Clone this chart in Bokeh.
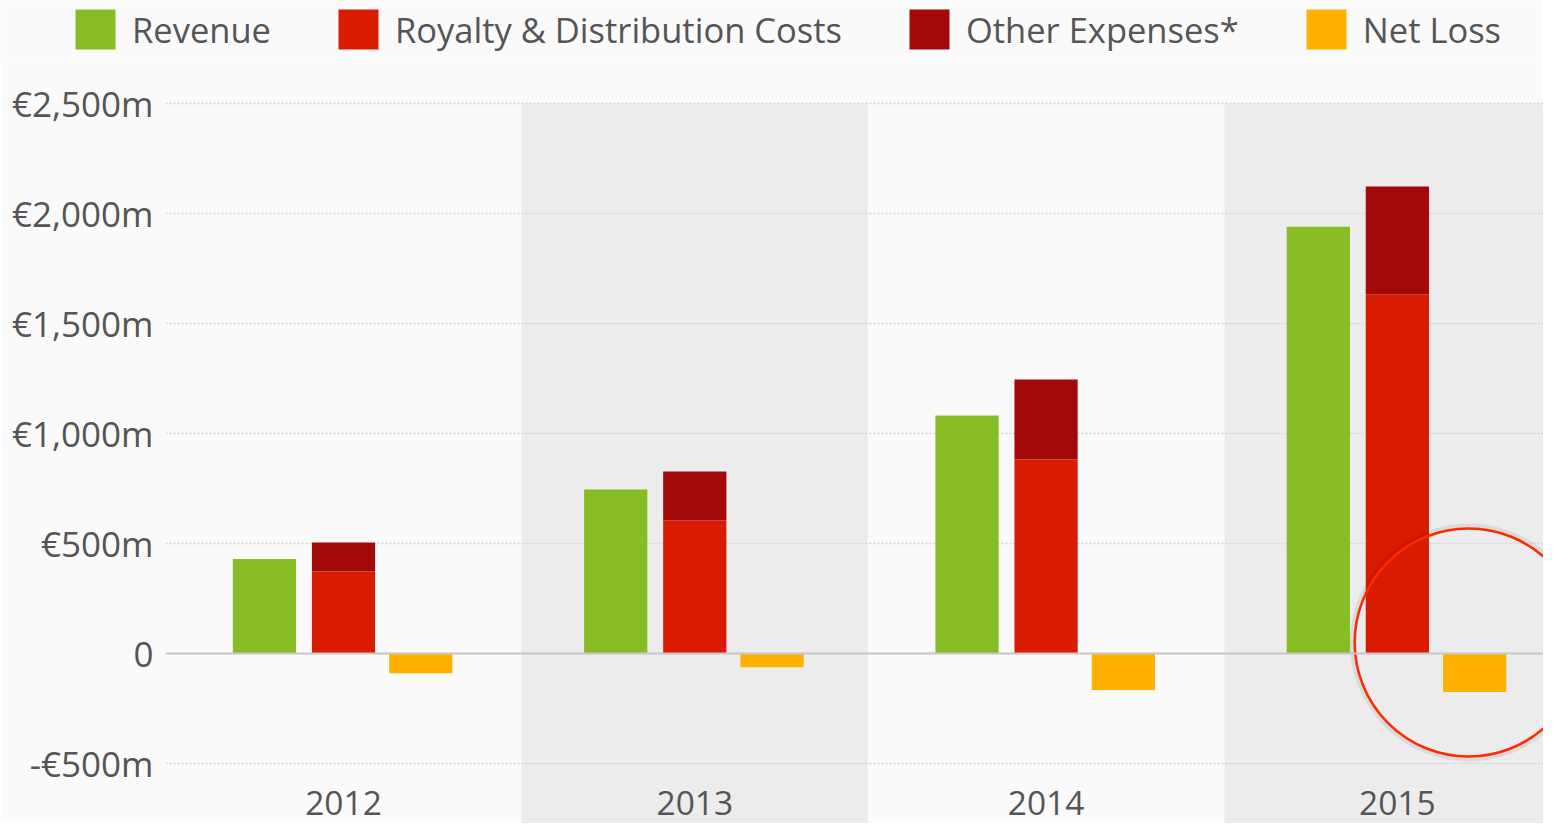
from bokeh.plotting import figure
from bokeh.models import Range1d, FixedTicker, Legend, LegendItem, ColumnDataSource, Span
from bokeh.core.properties import value
from bokeh.embed import file_html
from bokeh.resources import INLINE
import numpy as np

# ---- data ----
years = ["2012", "2013", "2014", "2015"]
revenue = [430, 746, 1082, 1940]
royalty = [373, 605, 882, 1632]
other_expenses = [132, 222, 363, 491]
net_loss = [-90, -62, -166, -175]
y_ticks = [-500, 0, 500, 1000, 1500, 2000, 2500]
y_tick_labels = ["-€500m", "0", "€500m", "€1,000m", "€1,500m", "€2,000m", "€2,500m"]
series_names = ["Revenue", "Royalty & Distribution Costs", "Other Expenses*", "Net Loss"]

# ---- styling ----
C_REV = "#87bc24"
C_ROY = "#d91c00"
C_OTH = "#a30909"
C_LOSS = "#ffb100"
COLORS = [C_REV, C_ROY, C_OTH, C_LOSS]
TXT = "#555555"
FONT = "Open Sans"
BG = "#fafafa"
BAND = "#ececec"
W = 1543

idx = np.arange(len(years))
src = ColumnDataSource(dict(
    x=idx,
    x_rev=idx - 0.225,
    x_roy=idx + 0.0,
    x_loss=idx + 0.22,
    revenue=revenue,
    royalty=royalty,
    total=[r + o for r, o in zip(royalty, other_expenses)],
    loss=net_loss,
    years=years,
))

# ---- legend strip ----
leg = figure(width=W, height=60, output_backend="svg", toolbar_location=None,
             x_range=Range1d(0, 1), y_range=Range1d(0, 1),
             x_axis_location=None, y_axis_location=None,
             min_border_left=0, min_border_right=0, min_border_top=0, min_border_bottom=0)
leg.background_fill_color = BG
leg.border_fill_color = BG
leg.outline_line_color = None
leg.grid.visible = False
dummies = [leg.vbar(x=[5], top=[5], bottom=[4], width=0.1, fill_color=c, line_color=None)
           for c in COLORS]
legend = Legend(items=[LegendItem(label=n, renderers=[r]) for n, r in zip(series_names, dummies)],
                orientation="horizontal", location=(70, 6),
                glyph_width=50, glyph_height=50, label_standoff=12, spacing=62,
                padding=5, margin=0, background_fill_alpha=0, border_line_color=None,
                label_text_font=FONT, label_text_font_size="34.5px",
                label_text_color=TXT)
leg.add_layout(legend, "center")

# ---- main chart ----
p = figure(width=W, height=763, output_backend="svg", toolbar_location=None,
           x_range=Range1d(-0.5067, 3.416), y_range=Range1d(-772.7, 2695.5),
           x_axis_location=None, min_border_left=165, min_border_right=0,
           min_border_top=0, min_border_bottom=0)
p.background_fill_color = BG
p.border_fill_color = BG
p.outline_line_color = None

# alternating bands
band_idx = [i for i in idx if i % 2 == 1]
p.vbar(x=band_idx, width=0.985, top=y_ticks[-1], bottom=-2000, fill_color=BAND,
       line_color=None, level="underlay")

# grid
p.xgrid.visible = False
p.ygrid.ticker = FixedTicker(ticks=y_ticks)
p.ygrid.grid_line_color = "#d2d2d2"
p.ygrid.grid_line_dash = "2 2"
p.ygrid.grid_line_width = 1.5

# y axis
yax = p.yaxis[0]
yax.ticker = FixedTicker(ticks=y_ticks)
yax.major_label_overrides = {t: l for t, l in zip(y_ticks, y_tick_labels)}
yax.axis_line_color = None
yax.major_tick_line_color = None
yax.minor_tick_line_color = None
yax.major_tick_in = 0
yax.major_tick_out = 0
yax.major_label_standoff = 12
yax.major_label_text_font = FONT
yax.major_label_text_font_size = "35px"
yax.major_label_text_color = TXT

w = 0.18
p.vbar(x="x_rev", width=w, top="revenue", bottom=0, source=src,
       fill_color=C_REV, line_color=None)
p.vbar(x="x_roy", width=w, top="royalty", bottom=0, source=src,
       fill_color=C_ROY, line_color=None)
p.vbar(x="x_roy", width=w, top="total", bottom="royalty", source=src,
       fill_color=C_OTH, line_color=None)
p.vbar(x="x_loss", width=w, top=0, bottom="loss", source=src,
       fill_color=C_LOSS, line_color=None)

# zero line
p.add_layout(Span(location=0, dimension="width", line_color="#c8c8c8", line_width=2))

# year labels
p.text(x="x", y=-680, text="years", source=src, text_font=value(FONT),
       text_font_size="33.5px", text_color=TXT, text_align="center",
       text_baseline="middle")

# highlight circle around 2015 net loss
cx = [src.data["x_loss"][-1] - 0.017]
p.circle(x=cx, y=[50], radius=116, radius_units="screen", fill_color=None,
         line_color="#000000", line_alpha=0.07, line_width=6)
p.circle(x=cx, y=[50], radius=114, radius_units="screen", fill_color=None,
         line_color="#ff2a00", line_width=2.5)

open("out.html", "w").write(file_html([leg, p], INLINE))
